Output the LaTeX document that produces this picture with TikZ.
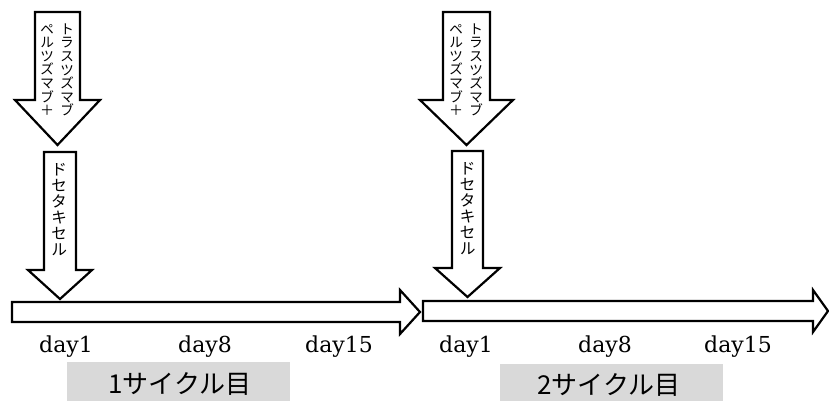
\documentclass[tikz,border=0pt]{standalone}
\usepackage{fontspec}
\newfontfamily\jpv[RawFeature=+vert]{Noto Sans CJK JP}
\newfontfamily\jp{Noto Sans CJK JP}
\newfontfamily\dayfont{DejaVu Serif}
\definecolor{boxgray}{HTML}{D9D9D9}
\begin{document}
\begin{tikzpicture}[x=1pt,y=-1pt,
  blockarrow/.style={draw=black, line width=2.2pt, fill=white, line join=miter},
  vtext/.style={align=center, inner sep=0pt, font=\jpv\fontsize{14}{13.6}\selectfont},
  vtextb/.style={align=center, inner sep=0pt, font=\jpv\fontsize{16}{16}\selectfont},
  daylabel/.style={inner sep=0pt, font=\dayfont\fontsize{22}{24}\selectfont},
  cyclelabel/.style={inner sep=0pt, font=\jp\fontsize{26}{28}\selectfont}]
\useasboundingbox (0,0) rectangle (829,400);
% horizontal timeline arrows
\draw[blockarrow] (12,302) -- (400,302) -- (400,290) -- (420,312) -- (400,334) -- (400,322) -- (12,322) -- cycle;
\draw[blockarrow] (423,301) -- (813,301) -- (813,290) -- (828,311) -- (813,332) -- (813,321) -- (423,321) -- cycle;
% cycle 1 arrows
\draw[blockarrow] (35,12) -- (80,12) -- (80,100) -- (100,100) -- (57.5,145) -- (15,100) -- (35,100) -- cycle;
\draw[blockarrow] (44,152) -- (76,152) -- (76,270) -- (92,270) -- (60,299) -- (28,270) -- (44,270) -- cycle;
% cycle 2 arrows
\draw[blockarrow] (443,12) -- (490,12) -- (490,100) -- (513,100) -- (466.5,145) -- (420,100) -- (443,100) -- cycle;
\draw[blockarrow] (452,151) -- (483,151) -- (483,268) -- (500,268) -- (467.5,297) -- (435,268) -- (452,268) -- cycle;
% vertical texts
\node[vtext] (t1a) at (67,70) {ト\\ラ\\ス\\ツ\\ズ\\マ\\ブ};
\node[vtext] (t1b) at (47,70) {ペ\\ル\\ツ\\ズ\\マ\\ブ\\＋};
\node[vtextb] (d1) at (59,210) {ド\\セ\\タ\\キ\\セ\\ル};
\node[vtext] (t2a) at (476,70) {ト\\ラ\\ス\\ツ\\ズ\\マ\\ブ};
\node[vtext] (t2b) at (456,70) {ペ\\ル\\ツ\\ズ\\マ\\ブ\\＋};
\node[vtextb] (d2) at (467.5,209) {ド\\セ\\タ\\キ\\セ\\ル};
% day labels
\node[daylabel, anchor=base] (c1d1) at (66,352) {day1};
\node[daylabel, anchor=base] (c1d8) at (205,352) {day8};
\node[daylabel, anchor=base] (c1d15) at (339,352) {day15};
\node[daylabel, anchor=base] (c2d1) at (466,352) {day1};
\node[daylabel, anchor=base] (c2d8) at (605,352) {day8};
\node[daylabel, anchor=base] (c2d15) at (738,352) {day15};
% cycle boxes
\fill[boxgray] (67,362) rectangle (290,402);
\fill[boxgray] (500,364) rectangle (723,402);
\node[cyclelabel] (cy1) at (180,384) {1サイクル目};
\node[cyclelabel] (cy2) at (609,385) {2サイクル目};
\end{tikzpicture}
\end{document}
